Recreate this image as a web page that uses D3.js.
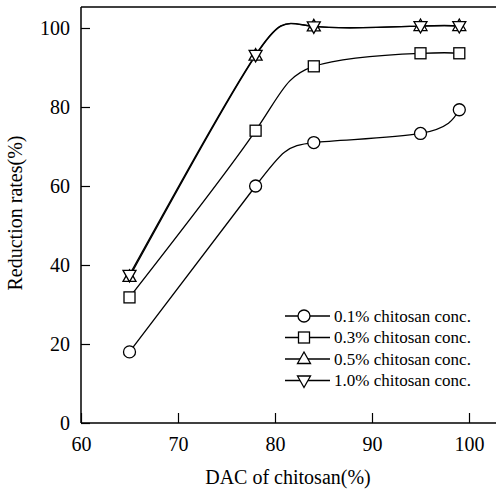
<!DOCTYPE html>
<html>
<head>
<meta charset="utf-8">
<script src="https://cdn.jsdelivr.net/npm/d3@7"></script>
<style>
  body { margin: 0; background: #fff; }
  svg { display: block; }
  text { font-family: "Liberation Serif", "Times New Roman", serif; fill: #000; }
</style>
</head>
<body>
<svg id="chart"></svg>
<script>
const dac = [65, 78, 84, 95, 99];
const conc01 = [18, 60, 71, 73.3, 79.3];
const conc03 = [31.8, 74, 90.3, 93.6, 93.6];
const conc05 = [37, 93, 100.4, 100.5, 100.5];
const conc10 = [37.5, 93.2, 100.4, 100.5, 100.5];
const seriesNames = ["0.1% chitosan conc.", "0.3% chitosan conc.", "0.5% chitosan conc.", "1.0% chitosan conc."];
const xTicks = [60, 70, 80, 90, 100];
const yTicks = [0, 20, 40, 60, 80, 100];

const width = 496, height = 493;
const svg = d3.select("#chart").attr("width", width).attr("height", height);

// x: 60 -> 81px, 100 -> 469px ; y: 0 -> 423px, 100 -> 28px
const x = d3.scaleLinear().domain([60, 100]).range([81, 469]);
const y = d3.scaleLinear().domain([0, 100]).range([423, 28]);
const xEnd = 497, yTop = 7;

const series = [
  {name: seriesNames[0], values: conc01, symbol: "circle"},
  {name: seriesNames[1], values: conc03, symbol: "square"},
  {name: seriesNames[2], values: conc05, symbol: "up"},
  {name: seriesNames[3], values: conc10, symbol: "down"}
];

// frame
svg.append("line").attr("x1", 81).attr("x2", xEnd).attr("y1", yTop).attr("y2", yTop)
  .attr("stroke", "#000").attr("stroke-width", 1.5);
svg.append("line").attr("x1", 81).attr("x2", xEnd).attr("y1", y(0)).attr("y2", y(0))
  .attr("stroke", "#000").attr("stroke-width", 1.5);
svg.append("line").attr("x1", 81).attr("x2", 81).attr("y1", yTop).attr("y2", y(0))
  .attr("stroke", "#000").attr("stroke-width", 1.5);

// axes (ticks pointing inward)
const xAxis = svg.append("g").attr("transform", "translate(0," + y(0) + ")")
  .call(d3.axisBottom(x).tickValues(xTicks).tickSize(-10).tickPadding(14).tickSizeOuter(0));
const yAxis = svg.append("g").attr("transform", "translate(81,0)")
  .call(d3.axisLeft(y).tickValues(yTicks).tickSize(-9).tickPadding(11).tickSizeOuter(0));
[xAxis, yAxis].forEach(a => {
  a.select(".domain").remove();
  a.selectAll("line").attr("stroke", "#000").attr("stroke-width", 1.2);
  a.selectAll("text").style("font-family", "Liberation Serif").style("font-size", "20px").attr("fill", "#000");
});
xAxis.selectAll("text").attr("dy", "0.71em");

// titles
svg.append("text").attr("x", 288).attr("y", 484).attr("text-anchor", "middle")
  .style("font-size", "20px").text("DAC of chitosan(%)");
svg.append("text").attr("transform", "translate(22,213) rotate(-90)").attr("text-anchor", "middle")
  .style("font-size", "20px").text("Reduction rates(%)");

const line = d3.line()
  .x((d, i) => x(dac[i]))
  .y(d => y(d))
  .curve(d3.curveNatural);

function drawSymbol(g, type, cx, cy) {
  if (type === "circle") {
    g.append("circle").attr("cx", cx).attr("cy", cy).attr("r", 6);
  } else if (type === "square") {
    g.append("rect").attr("x", cx - 5.5).attr("y", cy - 5.5).attr("width", 11).attr("height", 11);
  } else if (type === "up") {
    g.append("path").attr("d", `M${cx},${cy - 7}L${cx + 6.5},${cy + 4.5}L${cx - 6.5},${cy + 4.5}Z`);
  } else {
    g.append("path").attr("d", `M${cx},${cy + 7}L${cx + 6.5},${cy - 4.5}L${cx - 6.5},${cy - 4.5}Z`);
  }
}

series.forEach(s => {
  svg.append("path").datum(s.values).attr("d", line)
    .attr("fill", "none").attr("stroke", "#000").attr("stroke-width", 1.3);
});
series.forEach(s => {
  const g = svg.append("g").attr("fill", "#fff").attr("stroke", "#000").attr("stroke-width", 1.3);
  s.values.forEach((v, i) => drawSymbol(g, s.symbol, x(dac[i]), y(v)));
});

// legend
const legend = svg.append("g");
series.forEach((s, i) => {
  const ly = 316 + i * 21.5;
  legend.append("line").attr("x1", 285).attr("x2", 330).attr("y1", ly).attr("y2", ly)
    .attr("stroke", "#000").attr("stroke-width", 1.3);
  const g = legend.append("g").attr("fill", "#fff").attr("stroke", "#000").attr("stroke-width", 1.3);
  drawSymbol(g, s.symbol, 304, ly);
  legend.append("text").attr("x", 334).attr("y", ly).attr("dy", "0.35em")
    .style("font-size", "17px").text(s.name);
});
</script>
</body>
</html>
